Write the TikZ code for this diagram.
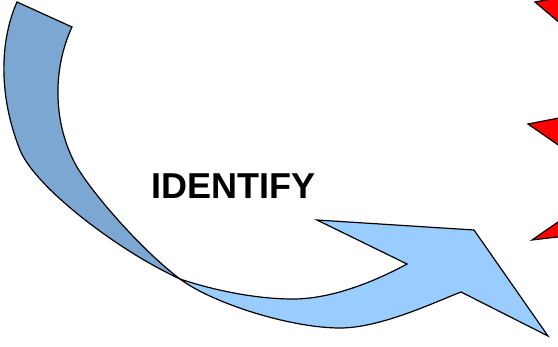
\documentclass[tikz,border=0pt]{standalone}
\usepackage{fontspec}
\setmainfont{Liberation Sans}
\definecolor{backblue}{HTML}{7BA7D2}
\definecolor{frontblue}{HTML}{99CCFF}
\tikzset{band/.style={draw=black,line width=1.2pt,line join=miter},
redtri/.style={draw=black,fill=red,line width=1.2pt}}
\begin{document}
\begin{tikzpicture}[x=1pt,y=-1pt]
\useasboundingbox (0,0) rectangle (558,347);
\clip (0,0) rectangle (558,347);
\fill[white] (0,0) rectangle (558,347);
% back (dark) part of the band
\coordinate (tailA) at (17,2);
\coordinate (tailB) at (72,27);
\coordinate (cross) at (180,279);
\draw[band,fill=backblue] (tailA)
 .. controls (0,40) and (-2,95) .. (20,150)
 .. controls (35,187) and (117,250) .. (cross)
 .. controls (144,252) and (95,197) .. (77,167)
 .. controls (53,125) and (52,70) .. (tailB) -- cycle;
% front (light) part with arrow head
\coordinate (notchB) at (461,292);
\coordinate (tip) at (548,336);
\coordinate (headR) at (474,230);
\coordinate (headL) at (317,220);
\coordinate (notchA) at (407,264);
\draw[band,fill=frontblue] (cross)
 .. controls (212,303) and (290,328) .. (340,328)
 .. controls (380,328) and (433,303) .. (notchB)
 -- (tip) -- (headR) -- (headL) -- (notchA)
 .. controls (372,283) and (330,299) .. (293,299)
 .. controls (255,299) and (213,290) .. (cross) -- cycle;
% red triangles at the right edge
\draw[redtri] (535,2) -- (600,57) -- (600,-10) -- cycle;
\draw[redtri] (528,124) -- (600,110) -- (600,174) -- cycle;
\draw[redtri] (532,240) -- (600,193) -- (600,232) -- cycle;
% label
\node[font=\bfseries\fontsize{36}{43}\selectfont,inner sep=0pt] (identify) at (233.5,186.5) {IDENTIFY};
\end{tikzpicture}
\end{document}
